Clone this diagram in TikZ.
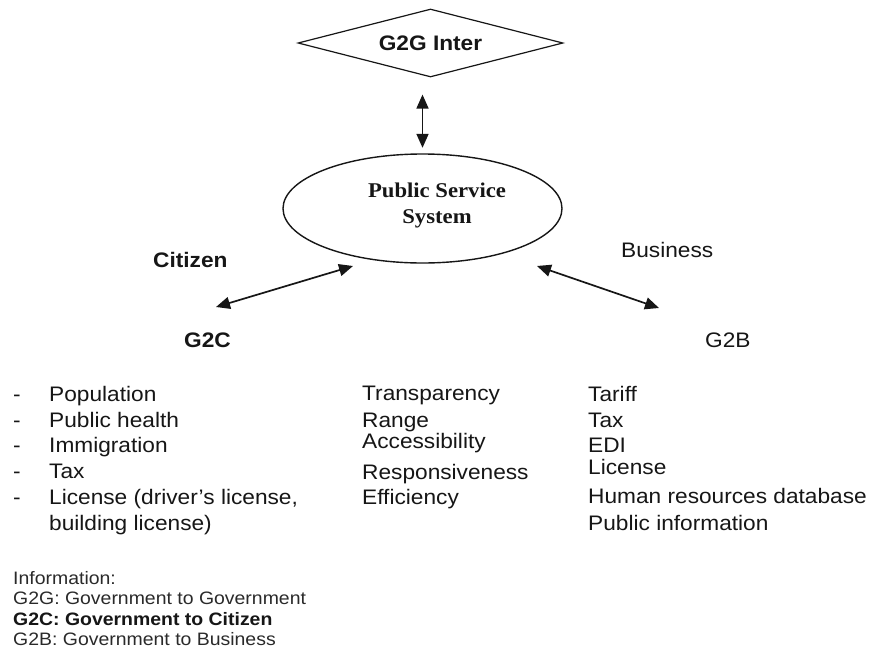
\documentclass[tikz,border=0pt]{standalone}
\usepackage{fontspec}
\setmainfont{Liberation Sans}[FakeStretch=1.08]
\newfontfamily\serifface{Liberation Serif}[FakeStretch=1.08]
\usetikzlibrary{shapes.geometric,arrows.meta}
\definecolor{ink}{HTML}{161616}
\definecolor{legendink}{HTML}{2A2A2A}
\tikzset{
  txt/.style={anchor=base west, inner sep=0pt, text=ink, font=\fontsize{21}{25}\selectfont},
  txtb/.style={txt, font=\fontsize{21}{25}\selectfont\bfseries},
  legend/.style={anchor=base west, inner sep=0pt, text=legendink, font=\fontsize{18}{21}\selectfont},
  legendb/.style={legend, text=ink, font=\fontsize{18}{21}\selectfont\bfseries},
  arr/.style={draw=ink, line width=1.7pt,
    {Triangle[length=14pt,width=12pt]}-{Triangle[length=14pt,width=12pt]}},
}
\begin{document}
\begin{tikzpicture}[x=1pt,y=-1pt]
\useasboundingbox (0,0) rectangle (874,653);
\fill[white] (0,0) rectangle (874,653);

% top of the hierarchy
\node[diamond, draw=ink, line width=1.2pt, aspect=3.9, inner sep=0pt,
      minimum width=265pt, minimum height=68pt,
      font=\fontsize{21}{25}\selectfont\bfseries, text=ink] (g2g) at (430.5,43) {G2G Inter};

% central system
\node[ellipse, draw=ink, line width=1.4pt, inner sep=0pt,
      minimum width=279pt, minimum height=109pt] (pss) at (422.5,208.5) {};
\node[anchor=base, inner sep=0pt, text=ink, font=\fontsize{21}{25}\serifface\bfseries] (pssA) at (437,197) {Public Service};
\node[anchor=base, inner sep=0pt, text=ink, font=\fontsize{21}{25}\serifface\bfseries] (pssB) at (437,223) {System};

\draw[arr, shorten <=17pt, shorten >=5.5pt] (g2g.south -| pss.north) -- (pss.north);

% citizen side
\node[txtb] (citizen) at (153,267) {Citizen};
\node[txtb] (g2c) at (184,347) {G2C};
\coordinate (czEnd) at (216,307);
\coordinate (czStart) at (353,266);
\draw[arr] (czEnd) -- (czStart);

% business side
\node[txt] (business) at (621,257) {Business};
\node[txt] (g2b) at (705,347) {G2B};
\coordinate (bzStart) at (537,266);
\coordinate (bzEnd) at (659,308);
\draw[arr] (bzStart) -- (bzEnd);

% citizen services
\node[txt] (d1) at (13,401) {-};
\node[txt] (d2) at (13,427) {-};
\node[txt] (d3) at (13,452) {-};
\node[txt] (d4) at (13,478) {-};
\node[txt] (d5) at (13,504) {-};
\node[txt] (c1) at (49,401) {Population};
\node[txt] (c2) at (49,427) {Public health};
\node[txt] (c3) at (49,452) {Immigration};
\node[txt] (c4) at (49,478) {Tax};
\node[txt] (c5) at (49,504) {License (driver’s license,};
\node[txt] (c6) at (49,530) {building license)};

% quality criteria
\node[txt] (q1) at (362,400) {Transparency};
\node[txt] (q2) at (362,427) {Range};
\node[txt] (q3) at (362,448) {Accessibility};
\node[txt] (q4) at (362,479) {Responsiveness};
\node[txt] (q5) at (362,504) {Efficiency};

% business services
\node[txt] (b1) at (588,401) {Tariff};
\node[txt] (b2) at (588,427) {Tax};
\node[txt] (b3) at (588,452) {EDI};
\node[txt] (b4) at (588,474) {License};
\node[txt] (b5) at (588,503) {Human resources database};
\node[txt] (b6) at (588,530) {Public information};

% key
\node[legend] (k0) at (13,584) {Information:};
\node[legend] (k1) at (13,604) {G2G: Government to Government};
\node[legendb] (k2) at (13,625) {G2C: Government to Citizen};
\node[legend] (k3) at (13,645) {G2B: Government to Business};
\end{tikzpicture}
\end{document}
